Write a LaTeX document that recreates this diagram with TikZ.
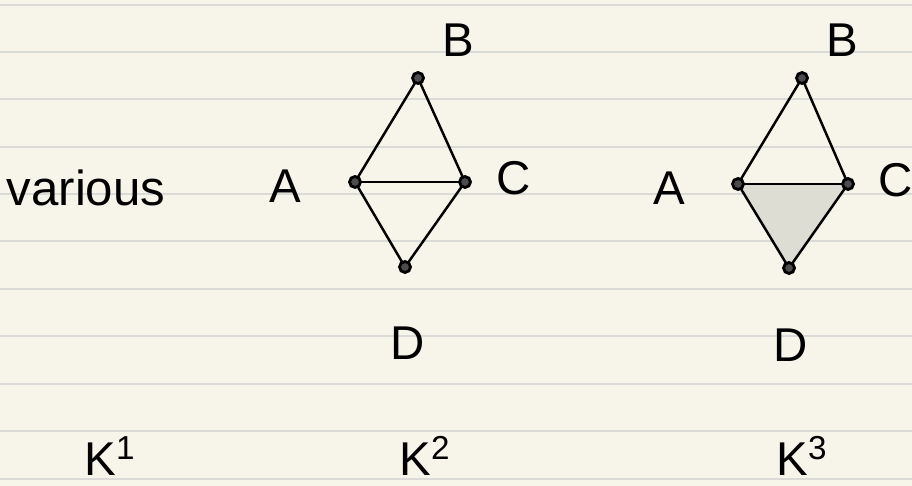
\documentclass[tikz,border=0pt]{standalone}
\usepackage{fontspec}
\setmainfont{Liberation Sans}
\usepackage{xcolor}
\usepackage{tikz}
\usetikzlibrary{positioning}

\definecolor{paper}{HTML}{F7F5EA}
\definecolor{ruling}{HTML}{DADAD6}
\definecolor{facefill}{HTML}{DDDDD3}

\begin{document}
\begin{tikzpicture}[
    x=0.02cm, y=-0.02cm,
    vertex/.style={circle, draw=black, line width=1.6pt, fill=black!70,
                   inner sep=0pt, minimum size=0.22cm},
    edge/.style={line width=1.4pt, black},
    letter/.style={font=\fontsize{27}{27}\selectfont, inner sep=0pt},
    degree/.style={font=\fontsize{27}{27}\selectfont, inner sep=0pt}
]
% paper and ruling
\fill[paper] (0,0) rectangle (912,486);
\useasboundingbox (0,0) rectangle (912,486);
\foreach \ly in {5,52,99,147,194,241,289,336,384,431,479} {
    \draw[ruling, line width=1pt] (0,\ly) -- (912,\ly);
}

\node[font=\fontsize{28}{28}\selectfont, inner sep=0pt] (various) at (86,188) {various};

% second complex
\coordinate (a2) at (355,182);
\coordinate (b2) at (418,78);
\coordinate (c2) at (465,182);
\coordinate (d2) at (405,267);
\foreach \u/\v in {a2/b2,b2/c2,a2/c2,a2/d2,c2/d2} {
    \draw[edge] (\u) -- (\v);
}

% third complex, with the face ACD filled
\coordinate (a3) at (738,184);
\coordinate (b3) at (802,78);
\coordinate (c3) at (848,184);
\coordinate (d3) at (789,268);
\fill[facefill] (a3) -- (c3) -- (d3) -- cycle;
\foreach \u/\v in {a3/b3,b3/c3,a3/c3,a3/d3,c3/d3} {
    \draw[edge] (\u) -- (\v);
}

\foreach \p in {a2,b2,c2,d2,a3,b3,c3,d3} {
    \node[vertex] (v\p) at (\p) {};
}

% labels
\node[letter] (la2) at (285,186) {A};
\node[letter] (lb2) at (458,40) {B};
\node[letter] (lc2) at (514,178) {C};
\node[letter] (ld2) at (408,343) {D};
\node[letter] (la3) at (669,188) {A};
\node[letter] (lb3) at (842,40) {B};
\node[letter] (lc3) at (896,180) {C};
\node[letter] (ld3) at (791,345) {D};

\node[degree] (k1) at (110,456) {K\textsuperscript{1}};
\node[degree] (k2) at (425,456) {K\textsuperscript{2}};
\node[degree] (k3) at (802,456) {K\textsuperscript{3}};
\end{tikzpicture}
\end{document}
